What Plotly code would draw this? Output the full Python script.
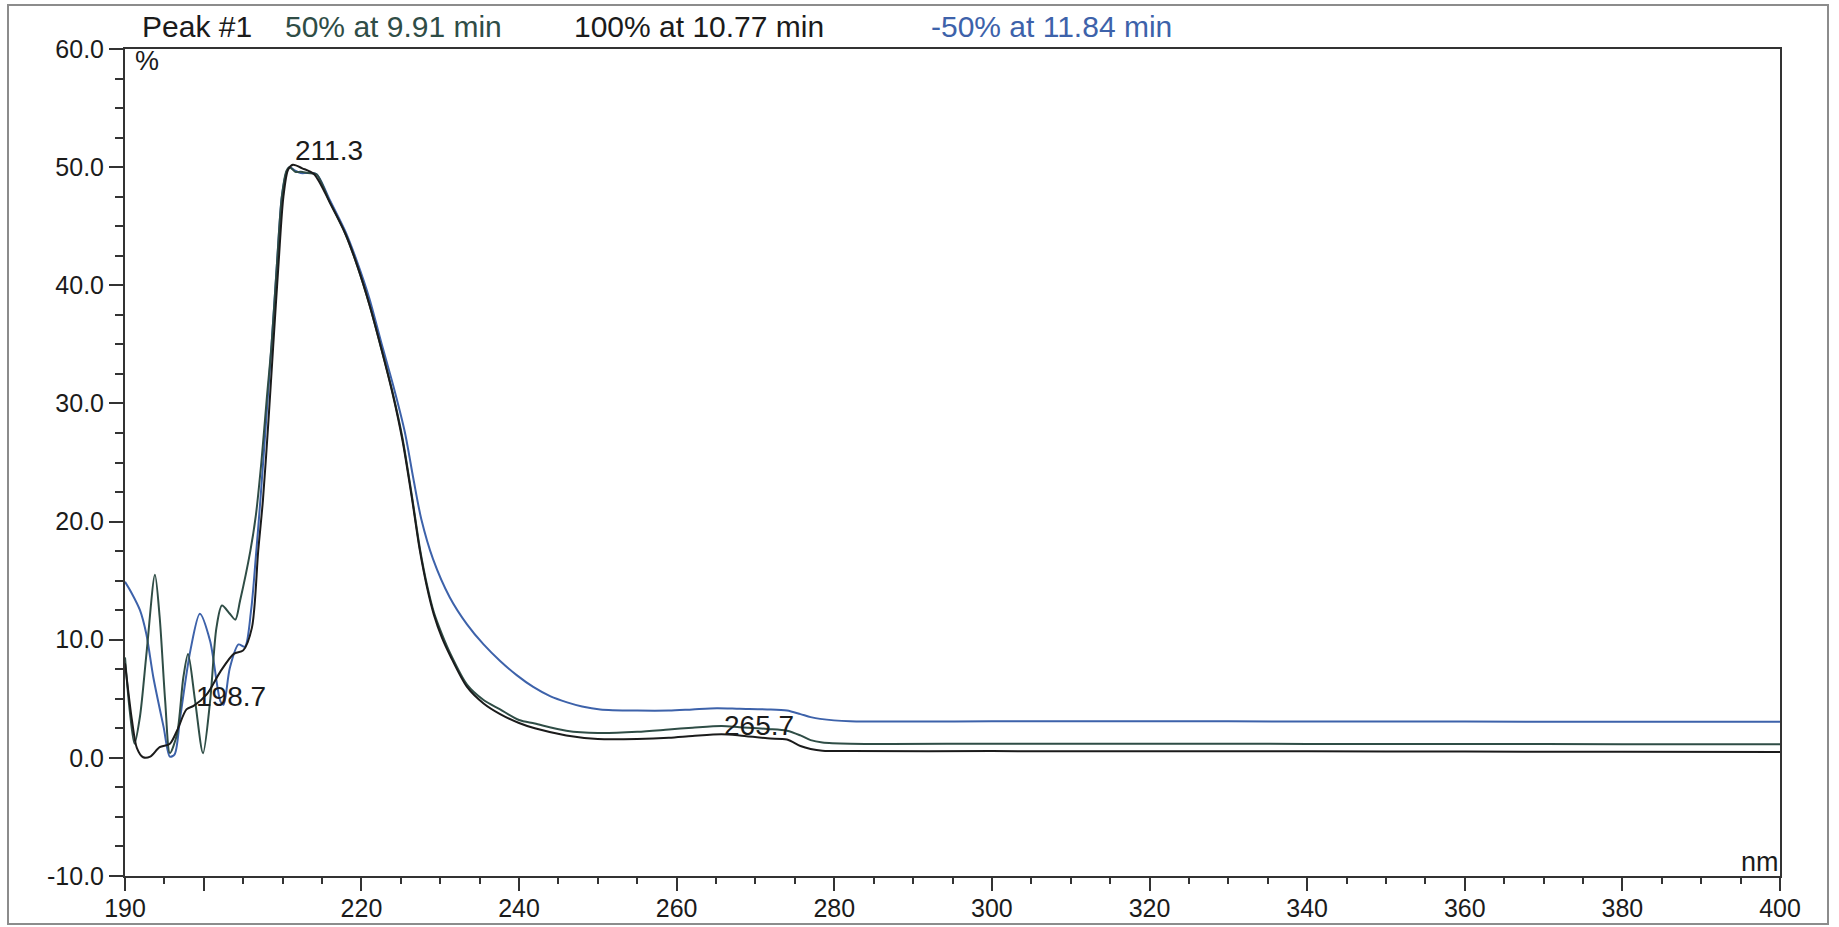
import numpy as np
import plotly.graph_objects as go

# ---- spectra extracted at three points of peak #1 (wavelength in nm, signal in %) ----
wl_100 = [190, 190.9, 191.5, 192.3, 193.2, 194.4, 195.7, 196.6, 197.8, 198.7, 200.4, 202.1,
          203.8, 205.0, 206.1, 206.9, 207.5, 208.2, 208.8, 209.5, 210.1, 210.7, 211.3, 212.5,
          214.0, 216.0, 218.0, 219.5, 221.0, 222.5, 224.0, 225.2, 226.4, 227.4, 228.3, 229.2,
          230.2, 231.3, 233.4, 235.5, 237.6, 240, 242, 246, 250, 255, 259, 262, 265.7, 268,
          271.5, 274, 275.7, 277, 278.5, 282, 300, 320, 340, 360, 380, 400]
ab_100 = [8.0, 3.1, 0.85, 0.05, 0.1, 0.9, 1.2, 2.3, 4.1, 4.4, 5.4, 7.3,
          8.8, 9.1, 11.0, 17.5, 21.8, 28.5, 34.8, 42.0, 47.5, 49.8, 50.2, 49.9,
          49.4, 47.0, 44.3, 41.6, 38.4, 34.7, 30.7, 26.9, 22.0, 17.6, 14.5, 12.1,
          10.2, 8.6, 6.0, 4.6, 3.7, 2.95, 2.5, 1.9, 1.6, 1.6, 1.7, 1.85, 2.0, 1.9,
          1.65, 1.55, 1.0, 0.75, 0.6, 0.57, 0.57, 0.56, 0.55, 0.53, 0.52, 0.5]

wl_50 = [190, 190.6, 191.2, 191.9, 192.75, 193.8, 194.4, 195.1, 195.7, 196.6, 197.4, 198.0,
         198.9, 199.9, 200.8, 201.6, 202.3, 203.3, 204.0, 204.6, 205.9, 206.6, 207.3, 208.0,
         208.6, 209.3, 209.9, 210.5, 210.9, 211.6, 212.3, 213.2, 214.3, 216, 218, 219.5, 221,
         222.5, 224, 225.2, 226.4, 227.4, 228.3, 229.2, 230.2, 231.3, 233.4, 235.5, 237.6, 240,
         242, 246, 250, 255, 259, 262, 265.7, 268, 271.5, 274, 275.7, 277, 278.5, 282, 300,
         320, 340, 360, 380, 400]
ab_50 = [8.5, 4.0, 1.2, 3.5, 9.0, 15.5, 11.9, 4.8, 0.4, 2.0, 6.8, 8.8,
         4.8, 0.4, 4.8, 11.0, 12.9, 12.2, 11.7, 13.3, 17.5, 20.5, 25.0, 30.5,
         35.0, 42.0, 47.5, 49.7, 50.0, 49.6, 49.6, 49.5, 49.4, 47.0, 44.3, 41.6, 38.4,
         34.7, 30.8, 27.1, 22.2, 17.8, 14.7, 12.3, 10.5, 8.8, 6.2, 4.9, 4.1, 3.2,
         2.9, 2.3, 2.1, 2.2, 2.4, 2.55, 2.7, 2.6, 2.45, 2.3, 1.9, 1.5, 1.3, 1.2, 1.2,
         1.2, 1.18, 1.17, 1.16, 1.15]

wl_m50 = [190, 190.8, 191.9, 192.7, 193.6, 194.9, 195.7, 196.3, 197.0, 198.3, 199.5, 200.8,
          202.1, 202.5, 203.3, 204.4, 205.2, 206.0, 206.6, 207.2, 207.9, 208.6, 209.3, 209.9,
          210.5, 210.9, 211.6, 212.3, 213.2, 214.3, 216, 218, 219.5, 221, 222.5, 224, 225.5,
          226.6, 227.6, 229.1, 231.2, 233.4, 235.5, 237.6, 239.7, 241.8, 244, 246.1, 248,
          250.3, 255, 259, 262, 265.1, 268, 271.5, 274, 275.7, 277, 278.2, 282, 300, 320,
          340, 360, 380, 400]
ab_m50 = [14.9, 14.0, 12.5, 10.5, 6.8, 2.6, 0.1, 0.3, 3.4, 9.1, 12.2, 9.9,
          4.8, 4.5, 7.6, 9.6, 9.4, 12.5, 17.0, 22.0, 28.5, 35.0, 42.0, 47.5,
          49.6, 50.0, 49.7, 49.5, 49.5, 49.4, 47.2, 44.5, 41.9, 38.9, 35.2, 31.6, 27.6,
          23.6, 20.2, 16.8, 13.6, 11.3, 9.6, 8.2, 7.0, 6.0, 5.2, 4.7, 4.35,
          4.1, 4.0, 4.0, 4.1, 4.2, 4.15, 4.1, 4.0, 3.7, 3.45, 3.3, 3.1, 3.1, 3.1,
          3.08, 3.07, 3.06, 3.05]

# peak labels found on the 100 % spectrum
peak_labels = [211.3, 198.7, 265.7]

header = ["Peak #1", "50% at 9.91 min", "100% at 10.77 min", "-50% at 11.84 min"]

x_ticks = [190, 200, 220, 240, 260, 280, 300, 320, 340, 360, 380, 400]
x_tick_text = ["190", "", "220", "240", "260", "280", "300", "320", "340", "360", "380", "400"]
y_ticks = [-10, 0, 10, 20, 30, 40, 50, 60]
y_tick_text = ["-10.0", "0.0", "10.0", "20.0", "30.0", "40.0", "50.0", "60.0"]

# ---- page geometry (pixels) ----
W, H = 1839, 927
L, R, T, B = 125, 59, 49, 51
PW, PH = W - L - R, H - T - B


def px(xp):
    return (xp - L) / PW


def py(yp):
    return (H - B - yp) / PH


FONT = "Liberation Sans, Arial, sans-serif"
FS_HEAD = 30
FS_TICK = 25
FS_LABEL = 28
C_BLACK = "#1b1b1b"
C_GREEN = "#2f4d46"
C_BLUE = "#3d62aa"

fig = go.Figure()
line_style = dict(shape="spline", smoothing=0.8, width=2)
fig.add_trace(go.Scatter(x=wl_m50, y=ab_m50, mode="lines", name="-50%",
                         line=dict(color=C_BLUE, **line_style)))
fig.add_trace(go.Scatter(x=wl_50, y=ab_50, mode="lines", name="50%",
                         line=dict(color=C_GREEN, **line_style)))
fig.add_trace(go.Scatter(x=wl_100, y=ab_100, mode="lines", name="100%",
                         line=dict(color=C_BLACK, **line_style)))

annotations = []
label_yshift = {211.3: -3, 198.7: -8, 265.7: -9}
for wl in peak_labels:
    annotations.append(dict(
        x=wl, y=float(np.interp(wl, wl_100, ab_100)), xref="x", yref="y",
        text=f"{wl:.1f}", showarrow=False, xanchor="left", yanchor="bottom",
        xshift=0, yshift=label_yshift[wl],
        font=dict(family=FONT, size=FS_LABEL, color=C_BLACK)))

header_x = [140, 283, 572, 929]
header_c = [C_BLACK, C_GREEN, C_BLACK, C_BLUE]
for txt, xp, col in zip(header, header_x, header_c):
    annotations.append(dict(
        x=px(xp), y=py(26), xref="paper", yref="paper", text=txt, showarrow=False,
        xanchor="left", yanchor="middle", font=dict(family=FONT, size=FS_HEAD, color=col)))

annotations.append(dict(x=px(133), y=py(61), xref="paper", yref="paper", text="%",
                        showarrow=False, xanchor="left", yanchor="middle",
                        font=dict(family=FONT, size=FS_TICK + 2, color=C_BLACK)))
annotations.append(dict(x=px(1781), y=py(879), xref="paper", yref="paper", text="nm",
                        showarrow=False, xanchor="right", yanchor="bottom",
                        font=dict(family=FONT, size=FS_TICK + 2, color=C_BLACK)))

# outer frame of the page
shapes = [dict(type="rect", xref="paper", yref="paper",
               x0=px(8), x1=px(1828), y0=py(924), y1=py(5),
               line=dict(color="#8c8c8c", width=2), fillcolor="rgba(0,0,0,0)")]

axis_common = dict(showgrid=False, zeroline=False, showline=True, linecolor="#333333",
                   linewidth=2, mirror=True, ticks="outside", tickcolor="#333333",
                   tickwidth=2, automargin=False,
                   tickfont=dict(family=FONT, size=FS_TICK, color=C_BLACK))

fig.update_layout(
    width=W, height=H,
    margin=dict(l=L, r=R, t=T, b=B, pad=0),
    paper_bgcolor="white", plot_bgcolor="white",
    showlegend=False,
    annotations=annotations,
    shapes=shapes,
    xaxis=dict(range=[190, 400], tickmode="array", tickvals=x_ticks, ticktext=x_tick_text,
               ticklen=13, ticklabelstandoff=-4,
               minor=dict(ticks="outside", dtick=5, tick0=190, ticklen=6,
                          tickcolor="#333333", tickwidth=2),
               **axis_common),
    yaxis=dict(range=[-10, 60], tickmode="array", tickvals=y_ticks, ticktext=y_tick_text,
               ticklen=14,
               minor=dict(ticks="outside", dtick=2.5, tick0=0, ticklen=8,
                          tickcolor="#333333", tickwidth=2),
               **axis_common),
)

fig.write_html("out.html")
